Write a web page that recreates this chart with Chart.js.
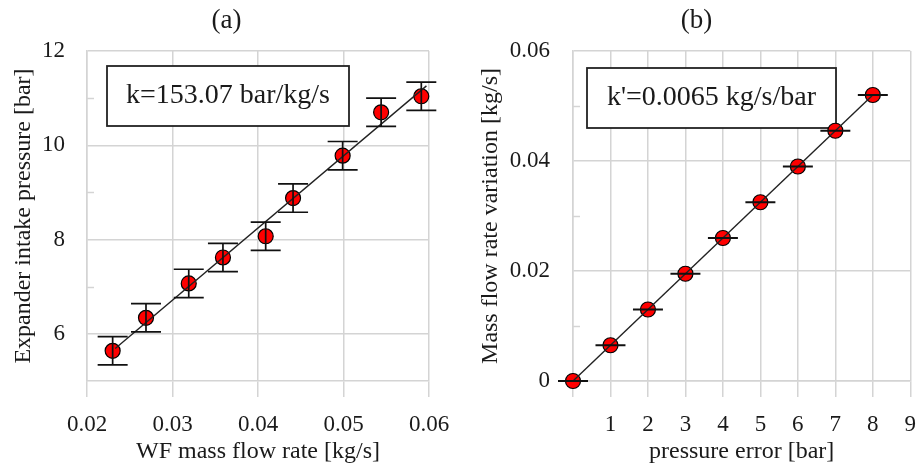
<!DOCTYPE html>
<html>
<head>
<meta charset="utf-8">
<script src="https://cdn.jsdelivr.net/npm/chart.js@4/dist/chart.umd.min.js"></script>
<style>
html,body{margin:0;padding:0;background:#fff;}
#wrap{position:relative;width:919px;height:470px;overflow:hidden;}
#ca{position:absolute;left:0;top:0;}
#cb{position:absolute;left:474px;top:0;}
</style>
</head>
<body>
<div id="wrap">
<canvas id="ca" width="453" height="470"></canvas>
<canvas id="cb" width="445" height="470"></canvas>
</div>
<script>
// ---- Panel (a) data ----
const massFlowA = [0.0230, 0.0269, 0.0319, 0.0359, 0.0409, 0.0441, 0.0499, 0.0544, 0.0591];
const pressureA = [5.64, 6.34, 7.07, 7.62, 8.07, 8.88, 9.78, 10.70, 11.04];
const pressureErrA = [0.30, 0.30, 0.30, 0.30, 0.30, 0.30, 0.30, 0.30, 0.30];
const fitXA = [0.0233, 0.0597];
const fitYA = [5.69, 11.26];
const xTicksA = [0.02, 0.03, 0.04, 0.05, 0.06];
const xTickLabelsA = ['0.02', '0.03', '0.04', '0.05', '0.06'];
const yTicksA = [6, 8, 10, 12];
const yTickLabelsA = ['6', '8', '10', '12'];
const yMinorA = [7, 9, 11];

// ---- Panel (b) data ----
const pressureErrB = [0, 1, 2, 3, 4, 5, 6, 7, 8];
const flowVarB = [0, 0.0065, 0.0130, 0.0195, 0.0260, 0.0325, 0.0390, 0.0455, 0.0520];
const xErrB = [0.4, 0.4, 0.4, 0.4, 0.4, 0.4, 0.4, 0.4, 0.4];
const fitXB = [0, 8];
const fitYB = [0, 0.052];
const xTicksB = [0, 1, 2, 3, 4, 5, 6, 7, 8, 9];
const xTickLabelsB = ['', '1', '2', '3', '4', '5', '6', '7', '8', '9'];
const yTicksB = [0, 0.02, 0.04, 0.06];
const yTickLabelsB = ['0', '0.02', '0.04', '0.06'];
const yMinorB = [0.01, 0.03, 0.05];

const FONT = "'Liberation Serif', 'Times New Roman', serif";
const TXT = '#1a1a1a';
const GRID = '#d4d4d4';

Chart.defaults.font.family = FONT;
Chart.defaults.color = TXT;

const toPts = (xs, ys) => xs.map((x, i) => ({x: x, y: ys[i]}));

// plugin: annotation box, minor ticks, error bars
const extras = {
  id: 'extras',
  beforeDatasetsDraw(chart, args, o) {
    const ctx = chart.ctx, a = chart.chartArea, y = chart.scales.y;
    ctx.save();
    ctx.strokeStyle = GRID; ctx.lineWidth = 1.5;
    o.minor.forEach(v => {
      const py = Math.round(y.getPixelForValue(v)) + 0.5;
      ctx.beginPath(); ctx.moveTo(a.left, py); ctx.lineTo(a.left + 7, py); ctx.stroke();
    });
    const bx = a.left + o.box.dx, by = a.top + o.box.dy;
    ctx.fillStyle = '#fff';
    ctx.fillRect(bx, by, o.box.w, o.box.h);
    ctx.strokeStyle = '#222'; ctx.lineWidth = 1.8;
    ctx.strokeRect(bx, by, o.box.w, o.box.h);
    ctx.fillStyle = TXT;
    ctx.font = '28px ' + FONT;
    ctx.textAlign = 'center'; ctx.textBaseline = 'middle';
    ctx.fillText(o.box.text, bx + o.box.w / 2, by + o.box.h / 2);
    ctx.restore();
  },
  afterDatasetsDraw(chart, args, o) {
    const ctx = chart.ctx, xs = chart.scales.x, ys = chart.scales.y;
    ctx.save();
    ctx.strokeStyle = '#111'; ctx.lineWidth = 1.7;
    o.px.forEach((xv, i) => {
      const yv = o.py[i];
      if (o.dir === 'y') {
        const px = xs.getPixelForValue(xv);
        const p1 = ys.getPixelForValue(yv - o.err[i]);
        const p2 = ys.getPixelForValue(yv + o.err[i]);
        ctx.beginPath();
        ctx.moveTo(px, p1); ctx.lineTo(px, p2);
        ctx.moveTo(px - o.cap, p1); ctx.lineTo(px + o.cap, p1);
        ctx.moveTo(px - o.cap, p2); ctx.lineTo(px + o.cap, p2);
        ctx.stroke();
      } else {
        const py = ys.getPixelForValue(yv);
        const p1 = xs.getPixelForValue(xv - o.err[i]);
        const p2 = xs.getPixelForValue(xv + o.err[i]);
        ctx.lineWidth = 2;
        ctx.beginPath(); ctx.moveTo(p1, py); ctx.lineTo(p2, py); ctx.stroke();
      }
    });
    ctx.restore();
  }
};

function makeChart(id, cfg) {
  return new Chart(document.getElementById(id), {
    type: 'scatter',
    data: {
      datasets: [
        {data: cfg.fit, showLine: true, borderColor: '#222', borderWidth: 1.4, pointRadius: 0, fill: false, clip: false},
        {data: cfg.pts, pointRadius: 7.5, pointBorderWidth: 1.2, pointBackgroundColor: '#ff0000', pointBorderColor: '#000', showLine: false, clip: false}
      ]
    },
    options: {
      responsive: false,
      animation: false,
      events: [],
      layout: {padding: 0},
      plugins: {
        legend: {display: false},
        tooltip: {enabled: false},
        title: {display: true, text: cfg.title, color: TXT, font: {size: 27, weight: 'normal', family: FONT, lineHeight: 1.2}, padding: {top: 4.3, bottom: 14.3}},
        extras: cfg.extras
      },
      scales: {
        x: {
          type: 'linear', min: cfg.xmin, max: cfg.xmax,
          afterBuildTicks: s => { s.ticks = cfg.xTicks.map(v => ({value: v})); },
          afterFit: s => { s.height = 89; s.paddingRight = 0; s.paddingLeft = 0; },
          grid: {color: GRID, lineWidth: 1.5, drawTicks: true, tickLength: 16, tickColor: GRID},
          border: {display: true, color: GRID, width: 1.5},
          ticks: {padding: 14, font: {size: 23, family: FONT}, color: TXT, maxRotation: 0, autoSkip: false, callback: (v, i) => cfg.xLabels[i]},
          title: {display: true, text: cfg.xTitle, color: TXT, font: {size: 24, family: FONT, lineHeight: 1.2}, padding: {top: 0, bottom: 3.6}}
        },
        y: {
          type: 'linear', min: cfg.ymin, max: cfg.ymax,
          afterBuildTicks: s => { s.ticks = cfg.yTicks.map(v => ({value: v})); },
          afterFit: s => { s.width = cfg.yWidth; },
          grid: {color: GRID, lineWidth: 1.5, drawTicks: false},
          border: {display: true, color: GRID, width: 1.5},
          ticks: {padding: cfg.yPad, font: {size: 23, family: FONT}, color: TXT, autoSkip: false, callback: (v, i) => cfg.yLabels[i]},
          title: {display: true, text: cfg.yTitle, color: TXT, font: {size: 24, family: FONT, lineHeight: 1.2}, padding: {top: cfg.yTitlePad, bottom: 0}}
        },
        yR: {
          type: 'linear', position: 'right', display: true,
          grid: {display: false, drawTicks: false}, border: {display: false},
          ticks: {display: false},
          afterFit: s => { s.width = cfg.rightW; }
        }
      }
    },
    plugins: [extras]
  });
}

makeChart('ca', {
  title: '(a)',
  fit: toPts(fitXA, fitYA),
  pts: toPts(massFlowA, pressureA),
  xmin: 0.02, xmax: 0.06, ymin: 5, ymax: 12,
  xTicks: xTicksA, xLabels: xTickLabelsA, yTicks: yTicksA, yLabels: yTickLabelsA,
  xTitle: 'WF mass flow rate [kg/s]', yTitle: 'Expander intake pressure [bar]',
  yWidth: 87, yPad: 22, yTitlePad: 8.9, rightW: 24,
  extras: {minor: yMinorA, box: {dx: 20, dy: 15, w: 242, h: 60, text: 'k=153.07 bar/kg/s'},
           px: massFlowA, py: pressureA, err: pressureErrA, dir: 'y', cap: 15}
});

makeChart('cb', {
  title: '(b)',
  fit: toPts(fitXB, fitYB),
  pts: toPts(pressureErrB, flowVarB),
  xmin: 0, xmax: 9, ymin: 0, ymax: 0.06,
  xTicks: xTicksB, xLabels: xTickLabelsB, yTicks: yTicksB, yLabels: yTickLabelsB,
  xTitle: 'pressure error [bar]', yTitle: 'Mass flow rate variation [kg/s]',
  yWidth: 99, yPad: 23, yTitlePad: 2.6, rightW: 3,
  extras: {minor: yMinorB, box: {dx: 14, dy: 17, w: 249, h: 60, text: "k'=0.0065 kg/s/bar"},
           px: pressureErrB, py: flowVarB, err: xErrB, dir: 'x', cap: 0}
});
</script>
</body>
</html>
